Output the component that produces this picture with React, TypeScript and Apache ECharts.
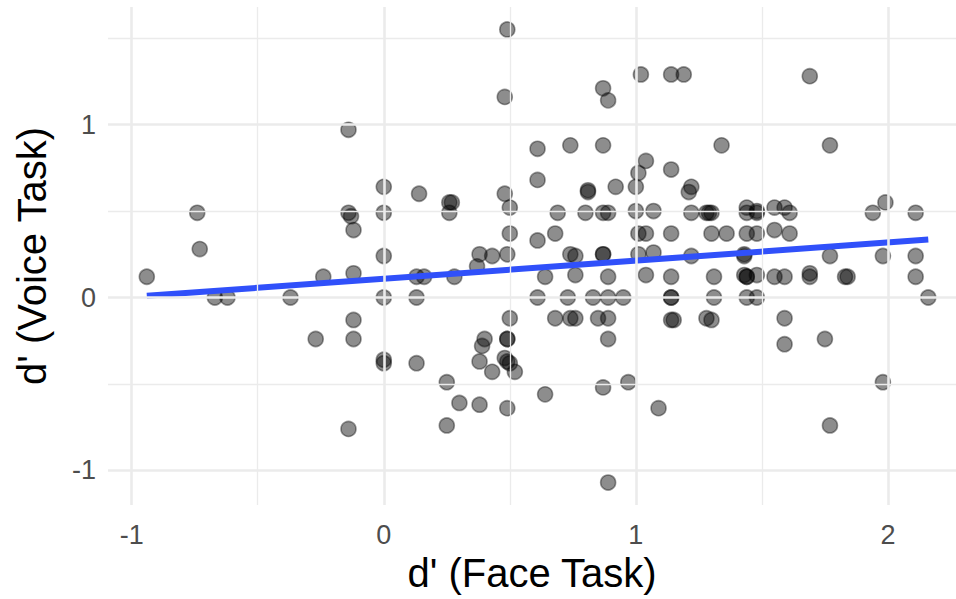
import React, { useEffect, useRef } from "react";
import * as echarts from "echarts";

// Scatter points: d' Face task (x) and d' Voice task (y)
const faceX: number[] = [
  -0.94, -0.74, -0.73, -0.67, -0.62, -0.37, -0.27, -0.24, -0.14, -0.14,
  -0.13, -0.12, -0.12, -0.12, -0.12, -0.14, 0.0, 0.0, 0.0, 0.0,
  0.0, 0.0, 0.13, 0.16, 0.13, 0.13, 0.14, 0.26, 0.27, 0.26,
  0.28, 0.25, 0.25, 0.3, 0.37, 0.38, 0.38, 0.38, 0.4, 0.39,
  0.43, 0.43, 0.48, 0.49, 0.48, 0.5, 0.49, 0.5, 0.5, 0.49,
  0.49, 0.49, 0.5, 0.48, 0.52, 0.49, 0.61, 0.61, 0.61, 0.61,
  0.64, 0.64, 0.68, 0.68, 0.69, 0.73, 0.74, 0.74, 0.76, 0.76,
  0.74, 0.76, 0.8, 0.81, 0.81, 0.83, 0.85, 0.87, 0.89, 0.87,
  0.87, 0.89, 0.87, 0.87, 0.89, 0.89, 0.89, 0.89, 0.87, 0.89,
  0.92, 0.95, 0.97, 1.0, 1.0, 1.01, 1.01, 1.01, 1.02, 1.04,
  1.04, 1.04, 1.07, 1.07, 1.09, 1.14, 1.19, 1.14, 1.14, 1.14,
  1.14, 1.14, 1.14, 1.15, 1.22, 1.21, 1.22, 1.22, 1.29, 1.3,
  1.28, 1.3, 1.31, 1.31, 1.28, 1.3, 1.34, 1.36, 1.44, 1.44,
  1.48, 1.48, 1.44, 1.48, 1.43, 1.43, 1.44, 1.44, 1.43, 1.48,
  1.44, 1.48, 1.55, 1.59, 1.61, 1.55, 1.61, 1.55, 1.59, 1.59,
  1.59, 1.69, 1.69, 1.69, 1.75, 1.77, 1.77, 1.77, 1.83, 1.84,
  1.94, 1.99, 1.98, 1.98, 2.11, 2.11, 2.11, 2.16,
];

const voiceY: number[] = [
  0.12, 0.49, 0.28, 0.0, 0.0, 0.0, -0.24, 0.12, 0.97, 0.49,
  0.47, 0.39, 0.14, -0.13, -0.24, -0.76, 0.64, 0.49, 0.24, 0.0,
  -0.36, -0.38, 0.12, 0.12, 0.0, -0.38, 0.6, 0.55, 0.55, 0.49,
  0.12, -0.49, -0.74, -0.61, 0.18, 0.25, -0.37, -0.62, -0.24, -0.28,
  0.24, -0.43, 1.16, 1.55, 0.6, 0.52, 0.25, 0.37, -0.12, -0.24,
  -0.24, -0.37, -0.38, -0.35, -0.43, -0.64, 0.86, 0.68, 0.33, 0.0,
  0.12, -0.56, 0.37, -0.12, 0.49, 0.0, 0.88, 0.25, 0.24, 0.13,
  -0.12, -0.12, 0.49, 0.62, 0.61, 0.0, -0.12, 1.21, 1.14, 0.88,
  0.49, 0.49, 0.25, 0.25, 0.12, 0.0, -0.12, -0.24, -0.52, -1.07,
  0.64, 0.0, -0.49, 0.64, 0.5, 0.72, 0.37, 0.25, 1.29, 0.79,
  0.37, 0.13, 0.5, 0.26, -0.64, 1.29, 1.29, 0.74, 0.37, 0.12,
  0.0, 0.0, -0.13, -0.13, 0.64, 0.61, 0.49, 0.24, 0.49, 0.49,
  0.49, 0.37, 0.12, 0.0, -0.12, -0.13, 0.88, 0.37, 0.52, 0.49,
  0.49, 0.5, 0.37, 0.37, 0.24, 0.25, 0.12, 0.12, 0.13, 0.13,
  0.0, 0.0, 0.52, 0.52, 0.49, 0.39, 0.37, 0.12, 0.12, -0.12,
  -0.27, 1.28, 0.14, 0.12, -0.24, 0.88, 0.24, -0.74, 0.12, 0.12,
  0.49, 0.55, 0.24, -0.49, 0.49, 0.24, 0.12, 0.0,
];

// Linear fit line endpoints
const fitX: number[] = [-0.94, 2.16];
const fitY: number[] = [0.01, 0.335];

// Axis labels and gridlines
const xTickLabels: number[] = [-1, 0, 1, 2];
const yTickLabels: number[] = [-1, 0, 1];
const xMajorGrid: number[] = [-1, 0, 1, 2];
const xMinorGrid: number[] = [-0.5, 0.5, 1.5];
const yMajorGrid: number[] = [-1, 0, 1];
const yMinorGrid: number[] = [-0.5, 0.5, 1.5];

const GRID_COLOR = "#EBEBEB";
const FONT = "Liberation Sans, Arial, Helvetica, sans-serif";

export default function App() {
  const ref = useRef<HTMLDivElement>(null);

  useEffect(() => {
    if (!ref.current) return;
    const chart = echarts.init(ref.current, undefined, { renderer: "svg" });

    const points = faceX.map((x, i) => [x, voiceY[i]]);
    const fit = fitX.map((x, i) => [x, fitY[i]]);

    const gridLines = [
      ...xMajorGrid.map((v) => ({ xAxis: v, lineStyle: { width: 2.6 } })),
      ...xMinorGrid.map((v) => ({ xAxis: v, lineStyle: { width: 1.3 } })),
      ...yMajorGrid.map((v) => ({ yAxis: v, lineStyle: { width: 2.6 } })),
      ...yMinorGrid.map((v) => ({ yAxis: v, lineStyle: { width: 1.3 } })),
    ];

    chart.setOption({
      animation: false,
      backgroundColor: "#FFFFFF",
      grid: { left: 108, right: 0, top: 7, bottom: 94, containLabel: false },
      xAxis: {
        type: "value",
        min: -1.094,
        max: 2.27,
        axisLine: { show: false },
        axisTick: { show: false },
        splitLine: { show: false },
        axisLabel: {
          customValues: xTickLabels,
          fontSize: 27,
          color: "#4D4D4D",
          fontFamily: FONT,
          margin: 16,
        },
        name: "d' (Face Task)",
        nameLocation: "middle",
        nameGap: 45,
        nameTextStyle: { fontSize: 40, color: "#000000", fontFamily: FONT },
      },
      yAxis: {
        type: "value",
        min: -1.2,
        max: 1.68,
        axisLine: { show: false },
        axisTick: { show: false },
        splitLine: { show: false },
        axisLabel: {
          customValues: yTickLabels,
          fontSize: 27,
          color: "#4D4D4D",
          fontFamily: FONT,
          margin: 12,
        },
        name: "d' (Voice Task)",
        nameLocation: "middle",
        nameGap: 56,
        nameTextStyle: { fontSize: 40, color: "#000000", fontFamily: FONT },
      },
      series: [
        {
          type: "scatter",
          data: [],
          silent: true,
          z: 0,
          markLine: {
            silent: true,
            symbol: ["none", "none"],
            label: { show: false },
            lineStyle: { color: GRID_COLOR, type: "solid" },
            emphasis: { disabled: true },
            data: gridLines,
          },
        },
        {
          type: "scatter",
          data: points,
          symbol: "circle",
          symbolSize: 15,
          z: 2,
          itemStyle: {
            color: "rgba(0,0,0,0.56)",
            borderColor: "rgba(0,0,0,0.5)",
            borderWidth: 1.6,
          },
        },
        {
          type: "line",
          data: fit,
          showSymbol: false,
          symbol: "none",
          z: 3,
          lineStyle: { color: "#3050FA", width: 6, cap: "butt" },
        },
      ],
    });

    return () => {
      chart.dispose();
    };
  }, []);

  return (
    <div
      ref={ref}
      style={{ position: "fixed", left: 0, top: 0, width: 956, height: 599 }}
    />
  );
}
